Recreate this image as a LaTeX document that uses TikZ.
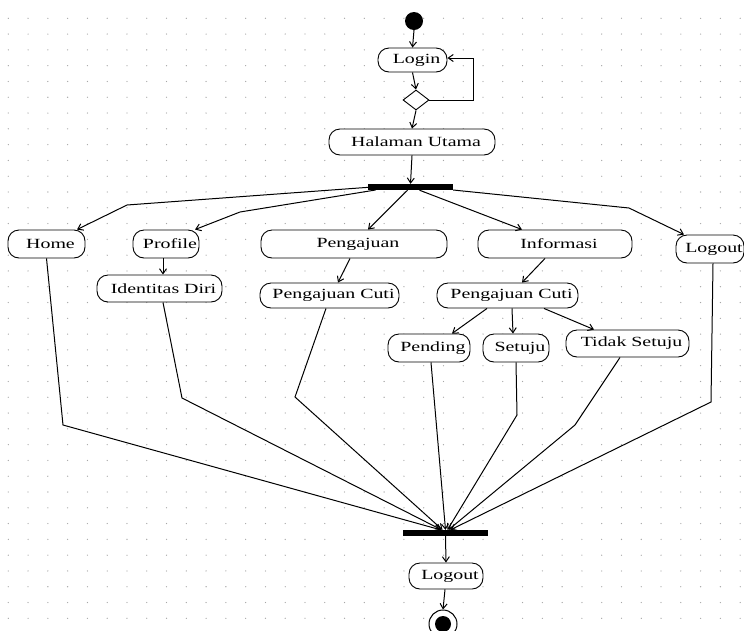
\documentclass[tikz,border=0pt]{standalone}
\usepackage{fontspec}
\newfontfamily\actfont{Liberation Serif}[FakeStretch=1.42]
\usetikzlibrary{arrows.meta,shapes.geometric}
\tikzset{
  x=1pt, y=-1pt,
  actbox/.style={draw, rounded corners=11pt, fill=white, inner sep=0pt, line width=0.9pt},
  acttext/.style={inner sep=0pt, font=\actfont\fontsize{14}{16}\selectfont},
  barnode/.style={fill=black, inner sep=0pt, minimum width=85pt, minimum height=6pt},
  flow/.style={line width=1pt},
  arr/.style={flow, -{Straight Barb[length=5pt,width=7pt]}},
}
\newcommand\actnode[6]{%
  \node[actbox, minimum width=#4pt, minimum height=#5pt] (#1) at (#2,#3) {};
  \node[acttext] (#1-t) at ([xshift=4pt]#1.center) {#6};}
\begin{document}
\begin{tikzpicture}
\useasboundingbox (0,0) rectangle (744,630);
\fill[white] (0,0) rectangle (744,630);
% dot grid
\foreach \i in {0,...,37} {
  \foreach \j in {0,...,38} {
    \fill[black!35] ({8.3+19.78*\i},{18.3+15.79*\j}) circle (0.65pt);
  }
}
% start
\node[circle, fill=black, minimum size=18pt, inner sep=0pt] (start) at (414,21) {};
\actnode{login}{412.5}{60}{69}{24}{Login}
\node[diamond, draw, fill=white, line width=0.9pt, inner sep=0pt, minimum width=26pt, minimum height=20pt] (dia) at (416,100) {};
\actnode{hal}{412}{142}{166}{26}{Halaman Utama}
\node[barnode] (fork) at (410.5,187) {};
\actnode{home}{46.5}{244}{77}{28}{Home}
\actnode{profile}{166}{244}{66}{28}{Profile}
\actnode{peng}{354}{244}{186}{28}{Pengajuan}
\actnode{info}{555}{244}{154}{28}{Informasi}
\actnode{logouta}{710}{249}{68}{28}{Logout}
\actnode{ident}{159.5}{288.5}{125}{27}{Identitas Diri}
\actnode{pca}{329.5}{295.5}{139}{25}{Pengajuan Cuti}
\actnode{pcb}{507.5}{295.5}{141}{25}{Pengajuan Cuti}
\actnode{pend}{429}{348}{82}{28}{Pending}
\actnode{setuju}{516}{348}{66}{28}{Setuju}
\actnode{tidak}{627.5}{343.5}{123}{27}{Tidak Setuju}
\node[barnode] (join) at (445.5,533) {};
\actnode{logoutb}{446}{576}{74}{26}{Logout}
\node[circle, draw, line width=1pt, fill=white, minimum size=28pt, inner sep=0pt] (end) at (443,624) {};
\node[circle, fill=black, minimum size=16pt, inner sep=0pt] (endin) at (end.center) {};
% bend coordinates
\coordinate (lp) at (473,58);
\coordinate (bhome) at (127,205);
\coordinate (bprof) at (240,212);
\coordinate (blog) at (629,208);
\coordinate (jhome) at (63,425);
\coordinate (jident) at (182,398);
\coordinate (jpca) at (295,397);
\coordinate (jset) at (517,415);
\coordinate (jtid) at (575,425);
\coordinate (jlog) at (711,402);
% top flow
\draw[arr] (start.south) -- (login.north);
\draw[arr] (login.south) -- (dia.north);
\draw[arr] (dia.south) -- (hal.north);
\draw[arr] (dia.east) -- (dia.east -| lp) -- (lp) -- (lp -| login.east);
\draw[arr] (hal.south) -- (fork.north);
% fork
\draw[arr] ([xshift=-38pt]fork.center) -- (bhome) -- ([xshift=30.5pt]home.north);
\draw[arr] ([xshift=-35pt,yshift=-3pt]fork.center) -- (bprof) -- ([xshift=29pt]profile.north);
\draw[arr] ([xshift=-3pt]fork.south) -- ([xshift=14pt]peng.north);
\draw[arr] ([xshift=9pt]fork.south) -- ([xshift=-33pt]info.north);
\draw[arr] ([yshift=-3pt]fork.east) -- (blog) -- ([xshift=-26pt]logouta.north);
% second level
\draw[arr] ([xshift=-3pt]profile.south) -- ([xshift=3.5pt]ident.north);
\draw[arr] ([xshift=-4pt]peng.south) -- ([xshift=8.5pt]pca.north);
\draw[arr] ([xshift=-10pt]info.south) -- ([xshift=14.5pt]pcb.north);
\draw[arr] ([xshift=-20.5pt]pcb.south) -- ([xshift=23pt]pend.north);
\draw[arr] ([xshift=4.5pt]pcb.south) -- ([xshift=-3pt]setuju.north);
\draw[arr] ([xshift=36.5pt]pcb.south) -- ([xshift=-33.5pt]tidak.north);
% join
\draw[arr] (home.south) -- (jhome) -- ([xshift=-5pt]join.north);
\draw[arr] ([xshift=3.5pt]ident.south) -- (jident) -- ([xshift=-4pt]join.north);
\draw[arr] ([xshift=-3.5pt]pca.south) -- (jpca) -- ([xshift=-3pt]join.north);
\draw[arr] ([xshift=2pt]pend.south) -- ([xshift=0pt]join.north);
\draw[arr] (setuju.south) -- (jset) -- ([xshift=2pt]join.north);
\draw[arr] ([xshift=-7.5pt]tidak.south) -- (jtid) -- ([xshift=3pt]join.north);
\draw[arr] ([xshift=3pt]logouta.south) -- (jlog) -- ([xshift=5pt]join.north);
% bottom
\draw[arr] (join.south) -- (logoutb.north);
\draw[arr] ([xshift=-1pt]logoutb.south) -- (end.north);
\end{tikzpicture}
\end{document}
